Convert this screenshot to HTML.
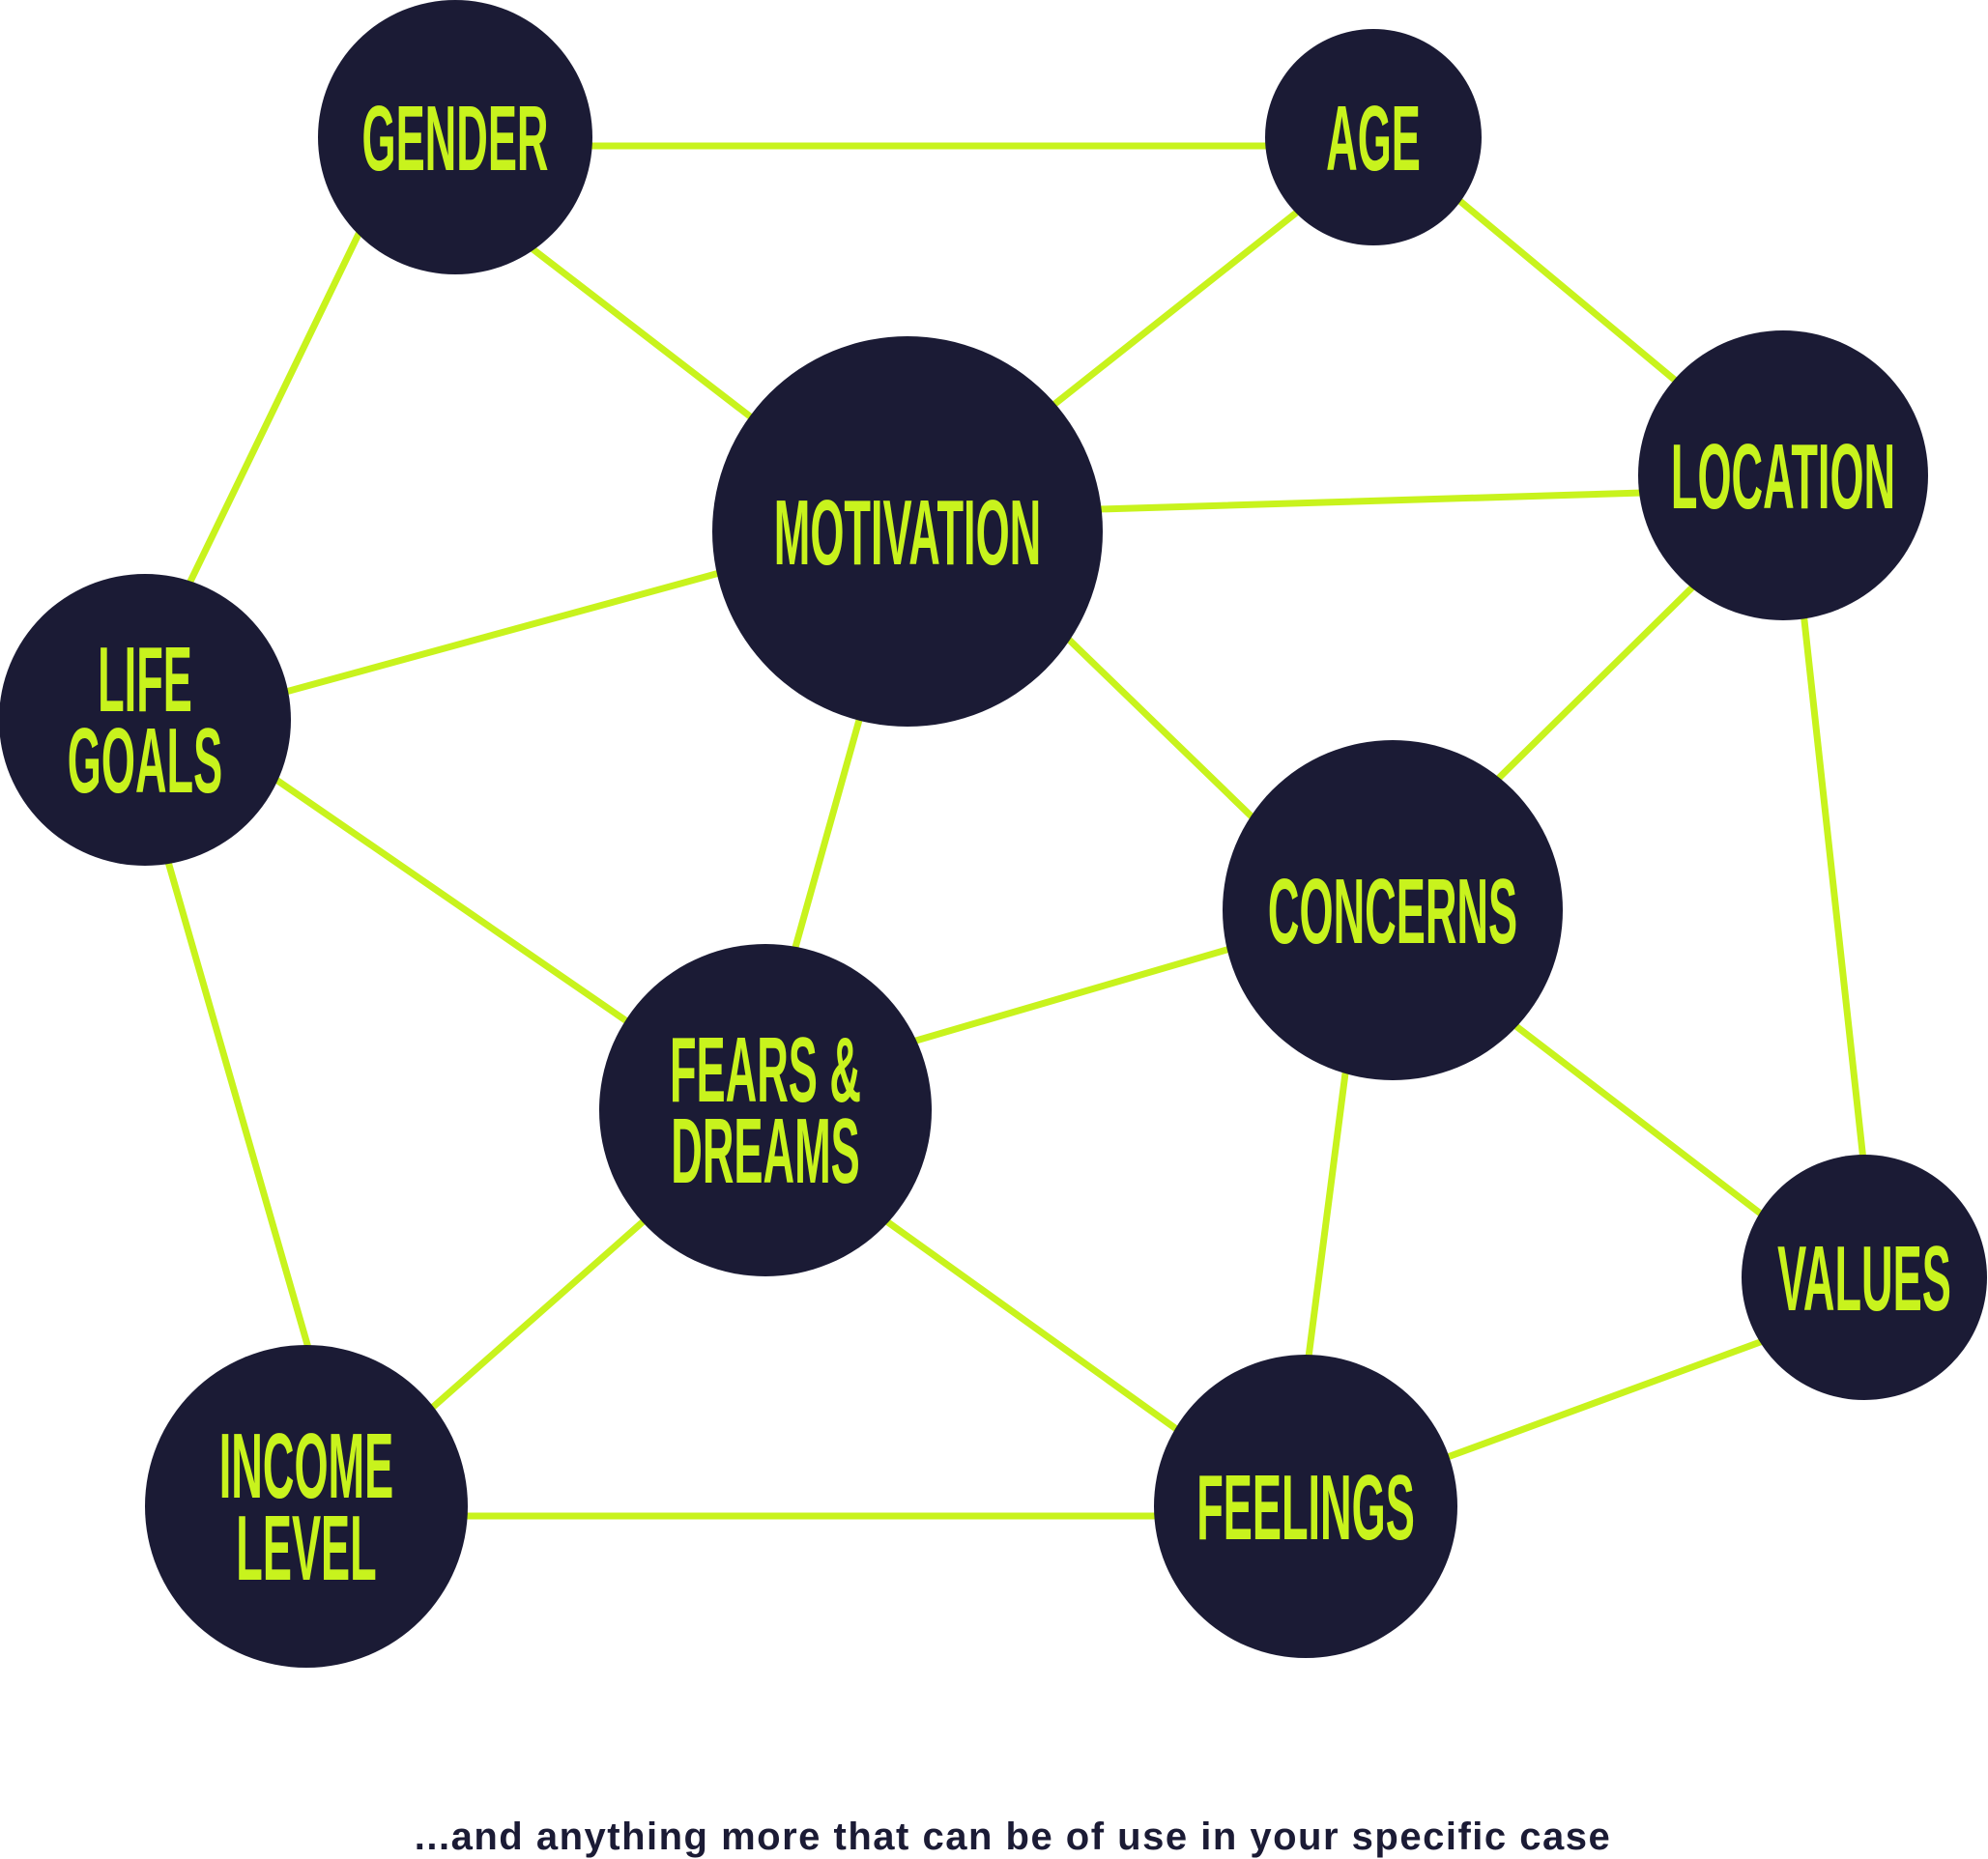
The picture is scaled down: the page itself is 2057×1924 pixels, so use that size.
<!DOCTYPE html>
<html><head><meta charset="utf-8"><style>
body{margin:0;background:#fff;}
svg{display:block}
.t{font-family:"Liberation Sans",sans-serif;font-weight:bold;fill:#c8f31d;font-size:96px;}
</style></head><body>
<svg width="2057" height="1924" viewBox="0 0 2057 1924" xmlns="http://www.w3.org/2000/svg">
<g stroke="#c8f31d" stroke-width="7" stroke-linecap="round">
<line x1="600" y1="151" x2="1320" y2="151"/>
<line x1="545" y1="253" x2="780" y2="434"/>
<line x1="374" y1="236" x2="193" y2="610"/>
<line x1="1344" y1="218" x2="1089" y2="420"/>
<line x1="1507" y1="205" x2="1735" y2="395"/>
<line x1="1137" y1="527" x2="1700" y2="510"/>
<line x1="748" y1="592" x2="292" y2="717"/>
<line x1="1104" y1="660" x2="1297" y2="847"/>
<line x1="891" y1="738" x2="822" y2="984"/>
<line x1="283" y1="805" x2="653" y2="1060"/>
<line x1="172" y1="885" x2="319" y2="1395"/>
<line x1="1754" y1="605" x2="1547" y2="809"/>
<line x1="1866" y1="633" x2="1928" y2="1201"/>
<line x1="1276" y1="981" x2="941" y2="1079"/>
<line x1="1566" y1="1060" x2="1823" y2="1257"/>
<line x1="1396" y1="1080" x2="1352" y2="1420"/>
<line x1="668" y1="1262" x2="446" y2="1458"/>
<line x1="916" y1="1263" x2="1220" y2="1481"/>
<line x1="478" y1="1569" x2="1200" y2="1569"/>
<line x1="1824" y1="1388" x2="1495" y2="1509"/>
</g>
<g fill="#1b1b35">
<circle cx="471" cy="142" r="142"/>
<circle cx="1421" cy="142" r="112"/>
<circle cx="939" cy="550" r="202"/>
<circle cx="1845" cy="492" r="150"/>
<circle cx="150" cy="745" r="151"/>
<circle cx="1441" cy="942" r="176"/>
<circle cx="792" cy="1149" r="172"/>
<circle cx="1929" cy="1322" r="127"/>
<circle cx="317" cy="1559" r="167"/>
<circle cx="1351" cy="1559" r="157"/>
</g>
<g class="t" text-anchor="middle">
<text transform="translate(471,176) scale(0.47,1)">GENDER</text>
<text transform="translate(1421,176) scale(0.47,1)">AGE</text>
<text transform="translate(939,584) scale(0.47,1)">MOTIVATION</text>
<text transform="translate(1845,526) scale(0.47,1)">LOCATION</text>
<text transform="translate(150,736) scale(0.47,1)">LIFE</text>
<text transform="translate(150,820) scale(0.47,1)">GOALS</text>
<text transform="translate(1441,976) scale(0.47,1)">CONCERNS</text>
<text transform="translate(792,1140) scale(0.47,1)">FEARS &amp;</text>
<text transform="translate(792,1224) scale(0.47,1)">DREAMS</text>
<text transform="translate(1929,1356) scale(0.47,1)">VALUES</text>
<text transform="translate(317,1550) scale(0.47,1)">INCOME</text>
<text transform="translate(317,1635) scale(0.47,1)">LEVEL</text>
<text transform="translate(1351,1593) scale(0.47,1)">FEELINGS</text>
</g>
<text x="1048" y="1914" text-anchor="middle" font-family="Liberation Sans,sans-serif" font-weight="bold" font-size="40" letter-spacing="1.5" fill="#1b1b35">...and anything more that can be of use in your specific case</text>
</svg>
</body></html>
